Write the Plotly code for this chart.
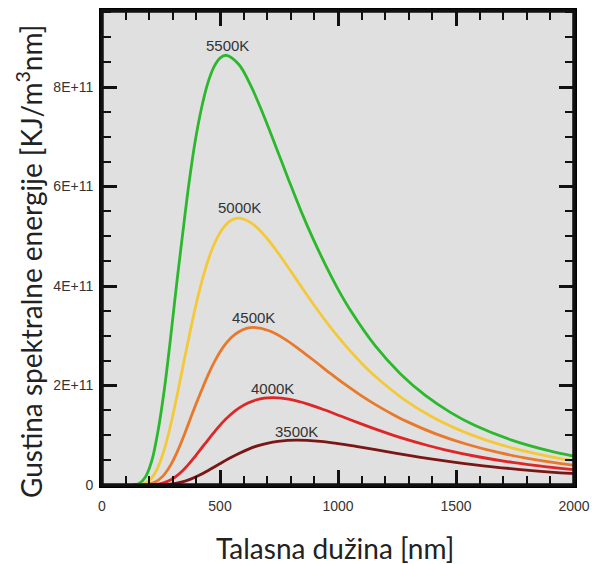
import plotly.graph_objects as go

# Wavelength [nm] and spectral energy density values
x_5500 = [132, 158, 184, 211, 237, 264, 290, 316, 343, 369, 395, 422, 448, 474, 501, 527, 580, 632, 685,
          738, 791, 843, 896, 949, 1001, 1054, 1159, 1265, 1370, 1476, 1581, 1739, 1897, 2003]
y_5500 = [0.0, 0.033e11, 0.162e11, 0.489e11, 1.076e11, 1.915e11, 2.932e11, 4.030e11, 5.098e11, 6.083e11,
          6.917e11, 7.586e11, 8.076e11, 8.402e11, 8.587e11, 8.640e11, 8.455e11, 8.014e11, 7.430e11,
          6.787e11, 6.134e11, 5.512e11, 4.932e11, 4.406e11, 3.929e11, 3.503e11, 2.791e11, 2.233e11,
          1.800e11, 1.461e11, 1.195e11, 0.897e11, 0.684e11, 0.576e11]

x_5000 = [145, 174, 203, 232, 261, 290, 319, 348, 377, 406, 435, 464, 493, 522, 551, 580, 638, 696, 754,
          812, 870, 928, 986, 1044, 1102, 1160, 1276, 1392, 1508, 1624, 1740, 1914, 2030]
y_5000 = [0.0, 0.020e11, 0.100e11, 0.304e11, 0.668e11, 1.189e11, 1.821e11, 2.502e11, 3.165e11, 3.777e11,
          4.295e11, 4.710e11, 5.015e11, 5.217e11, 5.332e11, 5.365e11, 5.250e11, 4.977e11, 4.614e11,
          4.214e11, 3.809e11, 3.423e11, 3.062e11, 2.736e11, 2.439e11, 2.175e11, 1.733e11, 1.386e11,
          1.118e11, 0.907e11, 0.742e11, 0.557e11, 0.464e11]

x_4500 = [161, 193, 225, 258, 290, 322, 354, 386, 419, 451, 483, 515, 547, 580, 612, 644, 708, 773, 837,
          902, 966, 1030, 1095, 1159, 1224, 1288, 1417, 1546, 1674, 1803, 1932, 2061]
y_4500 = [0.0, 0.012e11, 0.059e11, 0.179e11, 0.394e11, 0.702e11, 1.075e11, 1.478e11, 1.869e11, 2.230e11,
          2.536e11, 2.782e11, 2.961e11, 3.081e11, 3.149e11, 3.168e11, 3.100e11, 2.939e11, 2.724e11,
          2.488e11, 2.249e11, 2.021e11, 1.808e11, 1.616e11, 1.440e11, 1.284e11, 1.023e11, 0.819e11,
          0.660e11, 0.536e11, 0.438e11, 0.361e11]

x_4000 = [181, 217, 254, 290, 326, 362, 398, 435, 471, 507, 543, 580, 616, 652, 688, 725, 797, 869, 942,
          1014, 1087, 1159, 1232, 1304, 1377, 1449, 1594, 1739, 1884, 2029]
y_4000 = [0.0, 0.0067e11, 0.033e11, 0.0995e11, 0.219e11, 0.390e11, 0.597e11, 0.820e11, 1.037e11, 1.238e11,
          1.407e11, 1.544e11, 1.643e11, 1.709e11, 1.747e11, 1.758e11, 1.720e11, 1.631e11, 1.512e11,
          1.381e11, 1.248e11, 1.122e11, 1.003e11, 0.897e11, 0.799e11, 0.713e11, 0.568e11, 0.454e11,
          0.366e11, 0.297e11]

x_3500 = [207, 248, 290, 331, 373, 414, 455, 497, 538, 580, 621, 662, 704, 745, 787, 828, 911, 994, 1076,
          1159, 1242, 1325, 1408, 1490, 1573, 1656, 1822, 1987, 2153]
y_3500 = [0.0, 0.0034e11, 0.017e11, 0.051e11, 0.112e11, 0.200e11, 0.306e11, 0.421e11, 0.532e11, 0.635e11,
          0.722e11, 0.792e11, 0.843e11, 0.877e11, 0.897e11, 0.902e11, 0.883e11, 0.837e11, 0.776e11,
          0.709e11, 0.640e11, 0.575e11, 0.515e11, 0.460e11, 0.410e11, 0.366e11, 0.291e11, 0.233e11,
          0.188e11]

labels = ["5500K", "5000K", "4500K", "4000K", "3500K"]
label_x = [531, 583, 643, 723, 824]
label_y = [8.84e11, 5.57e11, 3.36e11, 1.95e11, 1.07e11]
colors = ["#2cb82c", "#f3c93a", "#e8782a", "#dd2626", "#7a1616"]

series = [(x_5500, y_5500), (x_5000, y_5000), (x_4500, y_4500), (x_4000, y_4000), (x_3500, y_3500)]

fig = go.Figure()
for (xs, ys), c, name in zip(series, colors, labels):
    fig.add_trace(go.Scatter(x=xs, y=ys, mode="lines", name=name,
                             line=dict(color=c, width=2.8, shape="spline", smoothing=1.0),
                             showlegend=False, cliponaxis=True))

for t, lx, ly in zip(labels, label_x, label_y):
    fig.add_annotation(x=lx, y=ly, text=t, showarrow=False,
                       font=dict(family="Liberation Sans, Arial", size=15, color="#333333"))

axis_common = dict(showline=True, linecolor="#000000", linewidth=3, mirror="allticks",
                   ticks="inside", ticklen=15, tickwidth=2.5, tickcolor="#111111",
                   showgrid=False, zeroline=False,
                   tickfont=dict(family="Liberation Sans, Arial", size=14, color="#333333"))

fig.update_xaxes(range=[0, 2000], tickmode="linear", tick0=0, dtick=500, ticklabelstandoff=6,
                 minor=dict(dtick=100, ticks="inside", ticklen=9, tickwidth=2, tickcolor="#111111", showgrid=False),
                 **axis_common)
fig.update_yaxes(range=[0, 9.53e11], tickmode="linear", tick0=0, dtick=2e11,
                 exponentformat="E", showexponent="all", ticklabelstandoff=3,
                 minor=dict(dtick=0.5e11, ticks="inside", ticklen=9, tickwidth=2, tickcolor="#111111", showgrid=False),
                 **axis_common)

# Axis titles placed as annotations
fig.add_annotation(xref="paper", yref="paper", x=0.4936, y=-0.1329, xanchor="center", yanchor="middle",
                   text="Talasna dužina [nm]", showarrow=False,
                   font=dict(family="Lato, Open Sans", size=28, color="#222222"))
fig.add_annotation(xref="paper", yref="paper", x=-0.1525, y=0.4705, xanchor="center", yanchor="middle",
                   text="Gustina spektralne energije [KJ/m<sup>3</sup>nm]", textangle=-90, showarrow=False,
                   font=dict(family="Lato, Open Sans", size=28, color="#222222"))

fig.add_shape(type="rect", xref="paper", yref="paper", x0=0, y0=0, x1=1, y1=1,
              line=dict(color="#111111", width=3.5), layer="above")

fig.update_layout(width=593, height=564, margin=dict(l=102, r=19, t=11, b=79, autoexpand=False),
                  plot_bgcolor="#e0e0e0", paper_bgcolor="white")

fig.write_html("out.html")
